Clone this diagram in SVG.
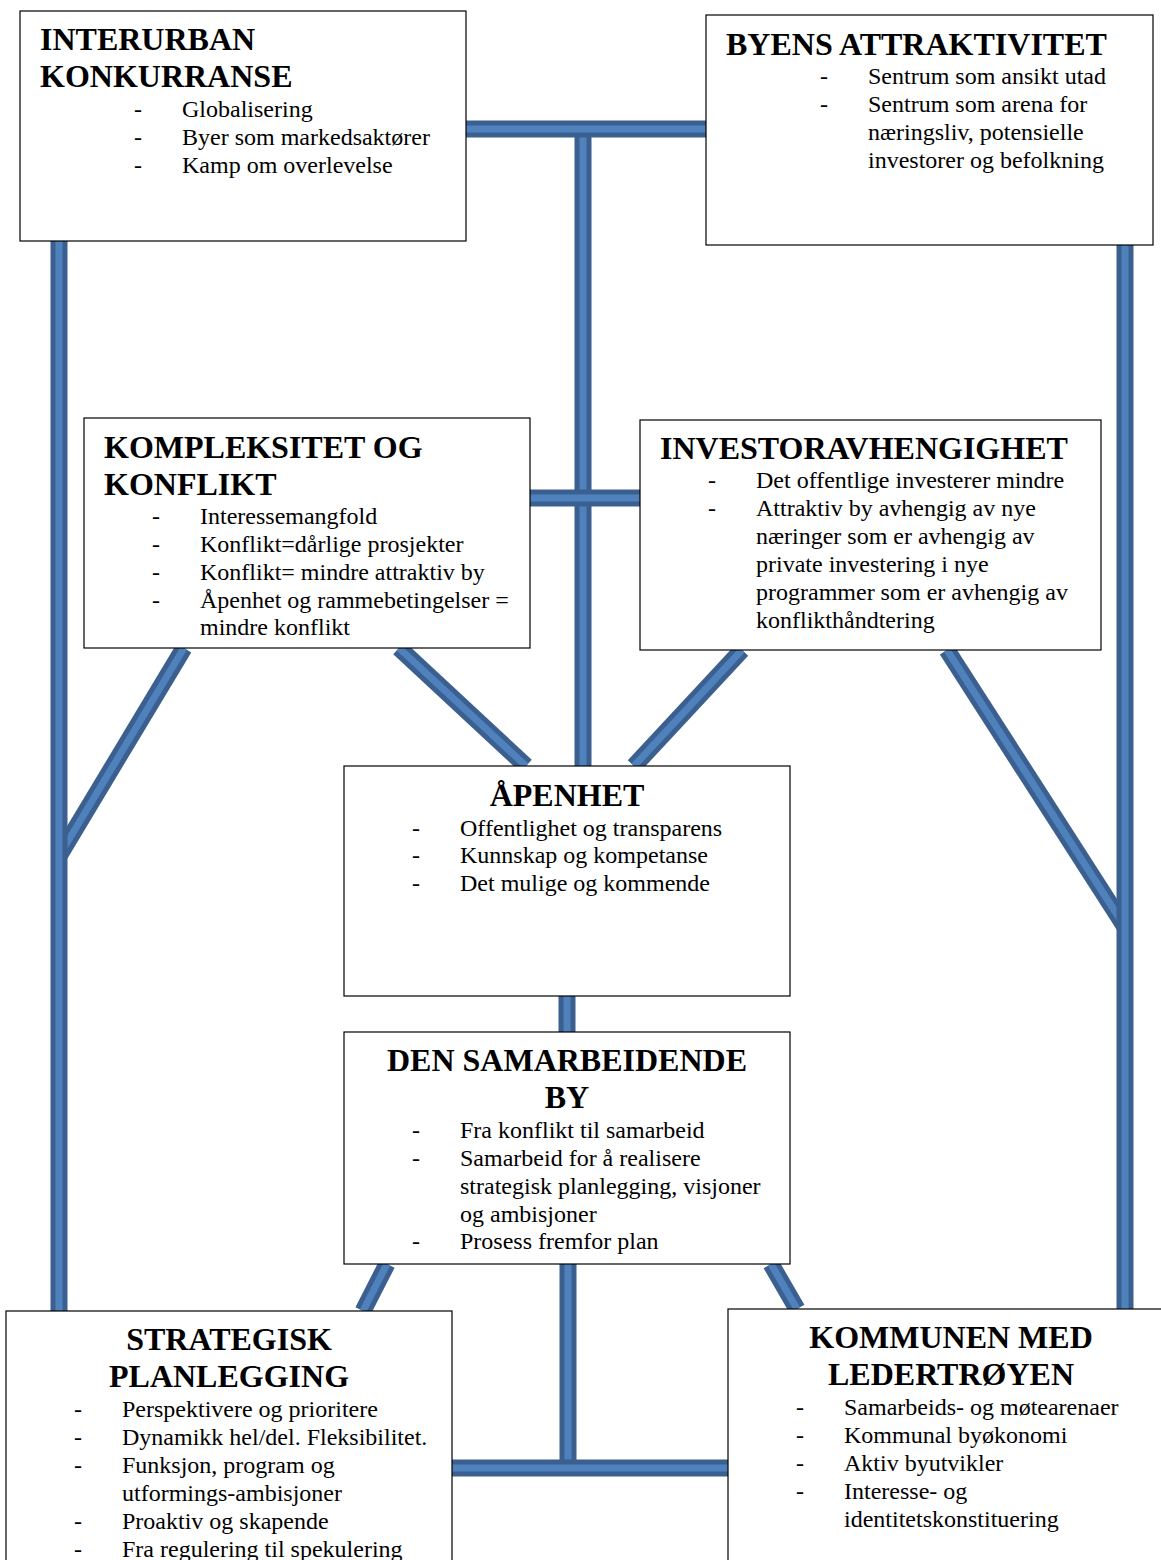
<svg xmlns="http://www.w3.org/2000/svg" width="1161" height="1560" viewBox="0 0 1161 1560">
  <style>
    .box { fill: #ffffff; stroke: #000000; stroke-width: 1.2; }
    .h { font-family: "Liberation Serif", "Times New Roman", serif; font-size: 32px; font-weight: bold; fill: #000; }
    .hc { text-anchor: middle; }
    .b { font-family: "Liberation Serif", "Times New Roman", serif; font-size: 24px; fill: #000; }
    .bar-o { stroke: #3b6090; stroke-width: 17; fill: none; stroke-linecap: butt; }
    .bar-i { stroke: #4f81bd; stroke-width: 7; fill: none; stroke-linecap: butt; }
  </style>
  <rect width="1161" height="1560" fill="#ffffff"/>

  <g id="connectors">
    <!-- diagonals (drawn first so verticals overlap their ends) -->
    <line class="bar-o" x1="184" y1="648" x2="59" y2="856"/><line class="bar-i" x1="184" y1="648" x2="59" y2="856"/>
    <line class="bar-o" x1="947" y1="650" x2="1125" y2="927"/><line class="bar-i" x1="947" y1="650" x2="1125" y2="927"/>
    <line class="bar-o" x1="399" y1="648" x2="526" y2="766"/><line class="bar-i" x1="399" y1="648" x2="526" y2="766"/>
    <line class="bar-o" x1="742" y1="650" x2="634" y2="766"/><line class="bar-i" x1="742" y1="650" x2="634" y2="766"/>
    <line class="bar-o" x1="387" y1="1264" x2="363" y2="1311"/><line class="bar-i" x1="387" y1="1264" x2="363" y2="1311"/>
    <line class="bar-o" x1="771" y1="1264" x2="797" y2="1309"/><line class="bar-i" x1="771" y1="1264" x2="797" y2="1309"/>
    <!-- verticals -->
    <line class="bar-o" x1="59" y1="241" x2="59" y2="1311"/><line class="bar-i" x1="59" y1="241" x2="59" y2="1311"/>
    <line class="bar-o" x1="1125" y1="245" x2="1125" y2="1309"/><line class="bar-i" x1="1125" y1="245" x2="1125" y2="1309"/>
    <line class="bar-o" x1="583" y1="129" x2="583" y2="766"/><line class="bar-i" x1="583" y1="129" x2="583" y2="766"/>
    <line class="bar-o" x1="567" y1="996" x2="567" y2="1032"/><line class="bar-i" x1="567" y1="996" x2="567" y2="1032"/>
    <line class="bar-o" x1="568" y1="1264" x2="568" y2="1468"/><line class="bar-i" x1="568" y1="1264" x2="568" y2="1468"/>
    <!-- horizontals -->
    <line class="bar-o" x1="466" y1="129" x2="706" y2="129"/><line class="bar-i" x1="466" y1="129" x2="706" y2="129"/>
    <line class="bar-o" x1="530" y1="498" x2="640" y2="498"/><line class="bar-i" x1="530" y1="498" x2="640" y2="498"/>
    <line class="bar-o" x1="452" y1="1468" x2="728" y2="1468"/><line class="bar-i" x1="452" y1="1468" x2="728" y2="1468"/>
  </g>

  <g id="interurban">
    <rect class="box" x="20" y="11" width="446" height="230"/>
    <text class="h" x="40" y="50">INTERURBAN</text>
    <text class="h" x="40" y="87">KONKURRANSE</text>
    <text class="b" x="134" y="117">-</text><text class="b" x="182" y="117">Globalisering</text>
    <text class="b" x="134" y="145">-</text><text class="b" x="182" y="145">Byer som markedsaktører</text>
    <text class="b" x="134" y="173">-</text><text class="b" x="182" y="173">Kamp om overlevelse</text>
  </g>

  <g id="attraktivitet">
    <rect class="box" x="706" y="15" width="447" height="230"/>
    <text class="h" x="726" y="55">BYENS ATTRAKTIVITET</text>
    <text class="b" x="820" y="84">-</text><text class="b" x="868" y="84">Sentrum som ansikt utad</text>
    <text class="b" x="820" y="112">-</text><text class="b" x="868" y="112">Sentrum som arena for</text>
    <text class="b" x="868" y="140">næringsliv, potensielle</text>
    <text class="b" x="868" y="168">investorer og befolkning</text>
  </g>

  <g id="kompleksitet">
    <rect class="box" x="84" y="418" width="446" height="230"/>
    <text class="h" x="104" y="458">KOMPLEKSITET OG</text>
    <text class="h" x="104" y="495">KONFLIKT</text>
    <text class="b" x="152" y="524">-</text><text class="b" x="200" y="524">Interessemangfold</text>
    <text class="b" x="152" y="552">-</text><text class="b" x="200" y="552">Konflikt=dårlige prosjekter</text>
    <text class="b" x="152" y="580">-</text><text class="b" x="200" y="580">Konflikt= mindre attraktiv by</text>
    <text class="b" x="152" y="608">-</text><text class="b" x="200" y="608">Åpenhet og rammebetingelser =</text>
    <text class="b" x="200" y="635">mindre konflikt</text>
  </g>

  <g id="investoravhengighet">
    <rect class="box" x="640" y="420" width="461" height="230"/>
    <text class="h" x="660" y="459">INVESTORAVHENGIGHET</text>
    <text class="b" x="708" y="488">-</text><text class="b" x="756" y="488">Det offentlige investerer mindre</text>
    <text class="b" x="708" y="516">-</text><text class="b" x="756" y="516">Attraktiv by avhengig av nye</text>
    <text class="b" x="756" y="544">næringer som er avhengig av</text>
    <text class="b" x="756" y="572">private investering i nye</text>
    <text class="b" x="756" y="600">programmer som er avhengig av</text>
    <text class="b" x="756" y="628">konflikthåndtering</text>
  </g>

  <g id="apenhet">
    <rect class="box" x="344" y="766" width="446" height="230"/>
    <text class="h hc" x="567" y="806">ÅPENHET</text>
    <text class="b" x="412" y="836">-</text><text class="b" x="460" y="836">Offentlighet og transparens</text>
    <text class="b" x="412" y="863">-</text><text class="b" x="460" y="863">Kunnskap og kompetanse</text>
    <text class="b" x="412" y="891">-</text><text class="b" x="460" y="891">Det mulige og kommende</text>
  </g>

  <g id="samarbeidende-by">
    <rect class="box" x="344" y="1032" width="446" height="232"/>
    <text class="h hc" x="567" y="1071">DEN SAMARBEIDENDE</text>
    <text class="h hc" x="567" y="1108">BY</text>
    <text class="b" x="412" y="1138">-</text><text class="b" x="460" y="1138">Fra konflikt til samarbeid</text>
    <text class="b" x="412" y="1166">-</text><text class="b" x="460" y="1166">Samarbeid for å realisere</text>
    <text class="b" x="460" y="1194">strategisk planlegging, visjoner</text>
    <text class="b" x="460" y="1222">og ambisjoner</text>
    <text class="b" x="412" y="1249">-</text><text class="b" x="460" y="1249">Prosess fremfor plan</text>
  </g>

  <g id="strategisk-planlegging">
    <rect class="box" x="6" y="1311" width="446" height="260"/>
    <text class="h hc" x="229" y="1350">STRATEGISK</text>
    <text class="h hc" x="229" y="1387">PLANLEGGING</text>
    <text class="b" x="74" y="1417">-</text><text class="b" x="122" y="1417">Perspektivere og prioritere</text>
    <text class="b" x="74" y="1445">-</text><text class="b" x="122" y="1445">Dynamikk hel/del. Fleksibilitet.</text>
    <text class="b" x="74" y="1473">-</text><text class="b" x="122" y="1473">Funksjon, program og</text>
    <text class="b" x="122" y="1501">utformings-ambisjoner</text>
    <text class="b" x="74" y="1529">-</text><text class="b" x="122" y="1529">Proaktiv og skapende</text>
    <text class="b" x="74" y="1557">-</text><text class="b" x="122" y="1557">Fra regulering til spekulering</text>
  </g>

  <g id="kommunen">
    <rect class="box" x="728" y="1309" width="446" height="262"/>
    <text class="h hc" x="951" y="1348">KOMMUNEN MED</text>
    <text class="h hc" x="951" y="1385">LEDERTRØYEN</text>
    <text class="b" x="796" y="1415">-</text><text class="b" x="844" y="1415">Samarbeids- og møtearenaer</text>
    <text class="b" x="796" y="1443">-</text><text class="b" x="844" y="1443">Kommunal byøkonomi</text>
    <text class="b" x="796" y="1471">-</text><text class="b" x="844" y="1471">Aktiv byutvikler</text>
    <text class="b" x="796" y="1499">-</text><text class="b" x="844" y="1499">Interesse- og</text>
    <text class="b" x="844" y="1527">identitetskonstituering</text>
  </g>
</svg>
